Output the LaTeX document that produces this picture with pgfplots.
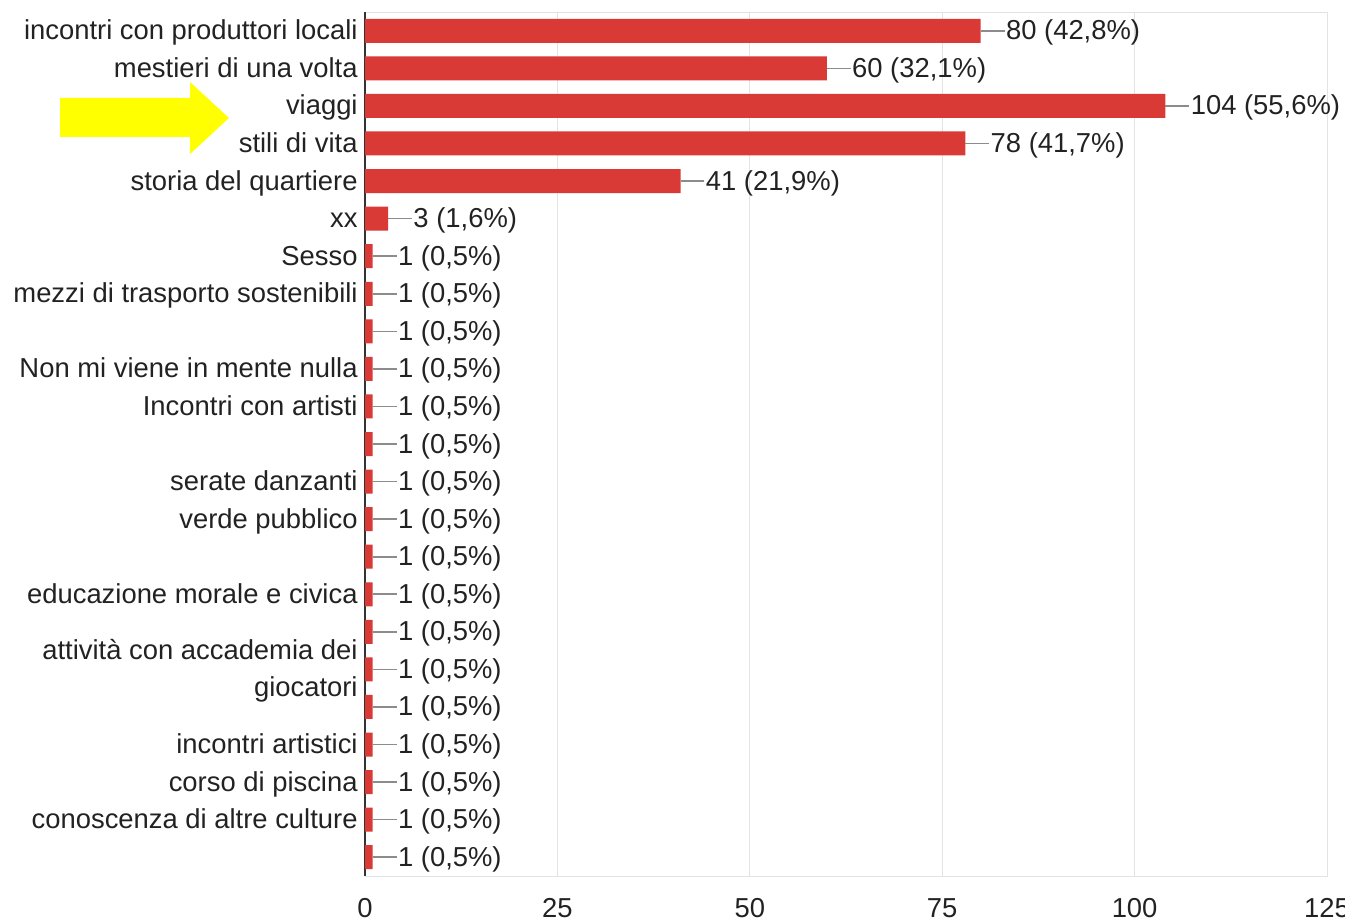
\documentclass[border=0pt]{standalone}
\usepackage{fontspec}
\setmainfont{Liberation Sans}
\usepackage{pgfplots}
\pgfplotsset{compat=1.18}
\definecolor{barred}{HTML}{D93A35}
\definecolor{txt}{HTML}{222222}
\definecolor{gridc}{HTML}{E3E3E3}
\definecolor{leader}{HTML}{8C8C8C}
\definecolor{yel}{HTML}{FFFF00}
\newcommand\lbl{\fontsize{13.7}{18.5}\selectfont}

\begin{document}
\begin{tikzpicture}
% page = 1345 x 920 px, 1 px = 0.5pt
\path[use as bounding box] (0,0) rectangle (672.5pt,-460pt);
\begin{scope}[x=0.5pt,y=-0.5pt]
  \fill[yel] (60,98) -- (190,98) -- (190,82) -- (229,118) -- (190,154) -- (190,137) -- (60,137) -- cycle;
\end{scope}
\begin{axis}[
    at={(182.5pt,-438pt)}, anchor=south west,
    scale only axis, width=481pt, height=432pt,
    xmin=0, xmax=125, ymin=-0.5, ymax=22.5, y dir=reverse,
    xbar, bar width=12pt, bar shift=0pt,
    xtick={0,25,...,125}, ytick={0,...,22},
    yticklabels={
        {incontri con produttori locali},
        {mestieri di una volta},
        {viaggi},
        {stili di vita},
        {storia del quartiere},
        {xx},
        {Sesso},
        {mezzi di trasporto sostenibili},
        {},
        {Non mi viene in mente nulla},
        {Incontri con artisti},
        {},
        {serate danzanti},
        {verde pubblico},
        {},
        {educazione morale e civica},
        {},
        {\raisebox{9.25pt}{\begin{tabular}[t]{@{}r@{}}attività con accademia dei\\giocatori\end{tabular}}},
        {},
        {incontri artistici},
        {corso di piscina},
        {conoscenza di altre culture},
        {}},
    major tick length=0pt,
    xmajorgrids, grid style={gridc, line width=0.5pt},
    axis line style={gridc, line width=0.5pt},
    extra x ticks={0}, extra x tick labels={},
    extra x tick style={grid style={black!80, line width=1pt}},
    ticklabel style={font=\lbl, text=txt},
    yticklabel style={anchor=base east, inner sep=0pt, xshift=-3.5pt, yshift=-4.5pt},
    xticklabel style={anchor=base, inner sep=0pt, yshift=-20.5pt},
    /pgf/number format/assume math mode=true,
    nodes near coords, point meta=explicit symbolic,
    nodes near coords style={font=\lbl, text=txt, anchor=base west, inner sep=0pt,
        xshift=12.5pt, yshift=-4.5pt},
    clip=false,
]
\addplot+[fill=barred, draw=none,
    error bars/.cd, x dir=plus, x fixed=3.1, error mark=none,
    error bar style={draw=leader, line width=0.8pt}]
coordinates {
    (80,0)  [80 (42,8\%)]
    (60,1)  [60 (32,1\%)]
    (104,2) [104 (55,6\%)]
    (78,3)  [78 (41,7\%)]
    (41,4)  [41 (21,9\%)]
    (3,5)   [3 (1,6\%)]
    (1,6)   [1 (0,5\%)]
    (1,7)   [1 (0,5\%)]
    (1,8)   [1 (0,5\%)]
    (1,9)   [1 (0,5\%)]
    (1,10)  [1 (0,5\%)]
    (1,11)  [1 (0,5\%)]
    (1,12)  [1 (0,5\%)]
    (1,13)  [1 (0,5\%)]
    (1,14)  [1 (0,5\%)]
    (1,15)  [1 (0,5\%)]
    (1,16)  [1 (0,5\%)]
    (1,17)  [1 (0,5\%)]
    (1,18)  [1 (0,5\%)]
    (1,19)  [1 (0,5\%)]
    (1,20)  [1 (0,5\%)]
    (1,21)  [1 (0,5\%)]
    (1,22)  [1 (0,5\%)]
};
\end{axis}
\end{tikzpicture}
\end{document}
